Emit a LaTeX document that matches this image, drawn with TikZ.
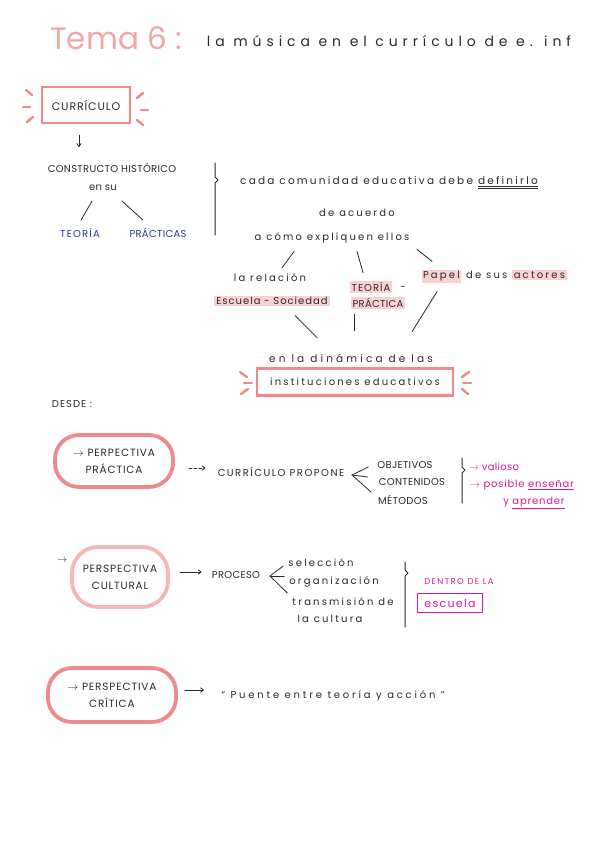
\documentclass[tikz,border=0pt]{standalone}
\usepackage{fontspec}
\setmainfont{Poppins}
\newfontfamily\handfont{Poppins}[LetterSpace=3]
\usepackage{tikz}
\usetikzlibrary{arrows.meta,calc}
\definecolor{ink}{HTML}{2A2A2A}
\definecolor{salmon}{HTML}{EE8A8A}
\definecolor{blush}{HTML}{F4B6B6}
\definecolor{hilite}{HTML}{F9D2D0}
\definecolor{navy}{HTML}{2B3990}
\definecolor{fuchsia}{HTML}{D81B9C}
\definecolor{titlepink}{HTML}{F4A5A5}
\setlength{\fboxsep}{1.5pt}
\newcommand{\marca}[1]{\colorbox{hilite}{#1}}
\newcommand{\spaced}[2]{\handfont\fontsize{#1}{17}\selectfont\addfontfeature{LetterSpace=#2}}
\tikzset{
  txt/.style={inner sep=1pt,text=ink,font=\handfont\fontsize{10}{17}\selectfont},
  low/.style={inner sep=1pt,text=ink,font=\spaced{10}{22}},
  hl/.style={fill=hilite,inner xsep=2pt,inner ysep=1.5pt},
  mainbox/.style={draw=salmon,line width=2.6pt,inner sep=2pt},
  persp/.style={txt,font=\spaced{10.5}{8},draw=salmon,line width=3.8pt,
    rounded corners=24pt,align=center},
  stroke/.style={ink,line width=0.8pt,line cap=round},
  spark/.style={salmon,line width=2.4pt,line cap=round},
  arr/.style={stroke,-{Straight Barb[length=3pt,width=4.5pt]}},
  dasharr/.style={arr,dash pattern=on 3pt off 2pt},
  brace/.style={stroke,line width=1pt,line join=round},
}
\begin{document}
\begin{tikzpicture}[x=1pt,y=-1pt]
  \fill[white] (0,0) rectangle (600,848);
  \useasboundingbox (0,0) rectangle (600,848);

  \node[font=\fontsize{31}{31}\selectfont,text=titlepink] (tema) at (116,38) {Tema 6 :};
  \node[low,font=\spaced{14}{35}] (titulo) at (389,41) {la música en el currículo de e. inf};

  \node[txt,font=\spaced{11}{8},mainbox,minimum width=88,minimum height=36] (curr) at (86,105) {CURRÍCULO};
  \draw[spark] (26,90) -- (32,95);
  \draw[spark] (23,107) -- (30,107);
  \draw[spark] (27,122) -- (33,117);
  \draw[spark] (143,93) -- (137,98);
  \draw[spark] (141,110) -- (148,110);
  \draw[spark] (137,120) -- (143,125);

  \node[txt] (constr) at (112,168) {CONSTRUCTO HISTÓRICO};
  \node[txt] (ensu) at (103,188) {en su};
  \node[txt,font=\spaced{10}{12},text=navy] (teo) at (80,233) {TEORÍA};
  \node[txt,text=navy] (prac) at (158,233) {PRÁCTICAS};
  \draw[arr] ($(curr.south)+(-7,11)$) -- ($(constr.north)+(-33,-15)$);
  \draw[stroke] ($(ensu.south)+(-11,9)$) -- ($(teo.north)+(1,-7)$);
  \draw[stroke] ($(ensu.south)+(19,9)$) -- ($(prac.north)+(-15,-7)$);
  \draw[brace] (215,163) -- (215,177) -- (218,180) -- (215,183) -- (215,235);

  \node[low,font=\spaced{10.5}{21}] (cada) at (389,183) {cada comunidad educativa debe \underline{\underline{definirlo}}};
  \node[low] (acuerdo) at (357,213) {de acuerdo};
  \node[low] (como) at (332,238) {a cómo expliquen ellos};
  \node[low] (rel) at (270,278) {la relación};
  \node[low,font=\spaced{10}{10},hl] (escsoc) at (272,301) {Escuela - Sociedad};
  \node[txt,font=\spaced{10}{10},hl] (teo2) at (371,287) {TEORÍA};
  \node[txt] (guion) at (403,288) {-};
  \node[txt,hl] (prac2) at (378,303) {PRÁCTICA};
  \node[low] (papel) at (494,276) {\marca{Papel} de sus \marca{actores}};
  \draw[stroke] ($(como.south)+(-38,7)$) -- ($(rel.north)+(12,-5)$);
  \draw[stroke] ($(como.south)+(25,7)$) -- ($(teo2.north)+(-8,-8)$);
  \draw[stroke] ($(como.south)+(85,5)$) -- ($(papel.north)+(-62,-7)$);

  \node[low,font=\spaced{10.5}{30}] (dinam) at (351,358) {en la dinámica de las};
  \draw[stroke] ($(escsoc.south)+(23,9)$) -- ($(dinam.north)+(-34,-15)$);
  \draw[stroke] ($(prac2.south)+(-24,5)$) -- ($(dinam.north)+(3,-22)$);
  \draw[stroke] ($(papel.south)+(-57,8)$) -- ($(dinam.north)+(61,-21)$);
  \node[low,mainbox,minimum width=196,minimum height=27] (inst) at (355,382) {instituciones educativos};
  \draw[spark] (240,372) -- (247,377);
  \draw[spark] (244,383) -- (252,383);
  \draw[spark] (241,394) -- (248,389);
  \draw[spark] (469,372) -- (462,377);
  \draw[spark] (463,383) -- (471,383);
  \draw[spark] (462,389) -- (468,394);

  \node[txt,font=\spaced{10}{10}] (desde) at (72,404) {DESDE :};

  \node[persp,minimum width=118,minimum height=52] (pprac) at (114,461) {$\rightarrow$ PERPECTIVA\\PRÁCTICA};
  \node[txt,font=\spaced{10}{15}] (prop) at (281,472) {CURRÍCULO PROPONE};
  \draw[dasharr] ($(pprac.east)+(14,7)$) -- ($(prop.west)+(-11,-4)$);
  \coordinate (fork1) at (352,475);
  \node[txt] (obj) at (405,465) {OBJETIVOS};
  \node[txt] (cont) at (412,482) {CONTENIDOS};
  \node[txt] (met) at (403,500) {MÉTODOS};
  \draw[stroke] (fork1) -- ($(obj.west)+(-8,2)$);
  \draw[stroke] (fork1) -- ($(cont.west)+(-10,-5)$);
  \draw[stroke] (fork1) -- ($(met.west)+(-6,-8)$);
  \draw[brace] (462,458) -- (462,467) -- (465,470) -- (462,473) -- (462,503);
  \node[txt,text=fuchsia] (val) at (494,467) {$\rightarrow$ valioso};
  \node[txt,font=\spaced{10}{8},text=fuchsia] (pos) at (522,485) {$\rightarrow$ posible \underline{enseñar}};
  \node[txt,font=\spaced{10}{8},text=fuchsia] (apr) at (534,503) {y \underline{aprender}};

  \node[persp,draw=blush,minimum width=96,minimum height=60,rounded corners=26pt] (pcult) at (120,577) {PERSPECTIVA\\CULTURAL};
  \node[txt] (flecha) at (62,561) {$\rightarrow$};
  \node[txt] (proc) at (236,575) {PROCESO};
  \draw[arr] ($(pcult.east)+(10,-5)$) -- ($(proc.west)+(-9,-3)$);
  \coordinate (fork2) at (270,576);
  \node[low] (sel) at (321,563) {selección};
  \node[low] (org) at (334,582) {organización};
  \node[low] (trans) at (343,602) {transmisión de};
  \node[low] (cult) at (330,619) {la cultura};
  \draw[stroke] (fork2) -- ($(sel.west)+(-4,3)$);
  \draw[stroke] (fork2) -- ($(org.west)+(-4,-6)$);
  \draw[stroke] (fork2) -- ($(trans.west)+(-4,-9)$);
  \draw[brace] (405,562) -- (405,570) -- (408,573) -- (405,576) -- (405,627);
  \node[txt,text=fuchsia,font=\spaced{8.5}{16}] (dentro) at (459,582) {DENTRO DE LA};
  \node[low,font=\spaced{11}{12},text=fuchsia,draw=fuchsia,line width=0.7pt,minimum width=65,minimum height=19] (esc) at (450,603) {escuela};

  \node[persp,minimum width=128,minimum height=54] (pcrit) at (112,695) {$\rightarrow$ PERSPECTIVA\\CRÍTICA};
  \node[low,font=\spaced{10}{28}] (puente) at (333,696) {“ Puente entre teoría y acción ”};
  \draw[arr] ($(pcrit.east)+(7,-5)$) -- ($(puente.west)+(-16,-6)$);
\end{tikzpicture}
\end{document}
